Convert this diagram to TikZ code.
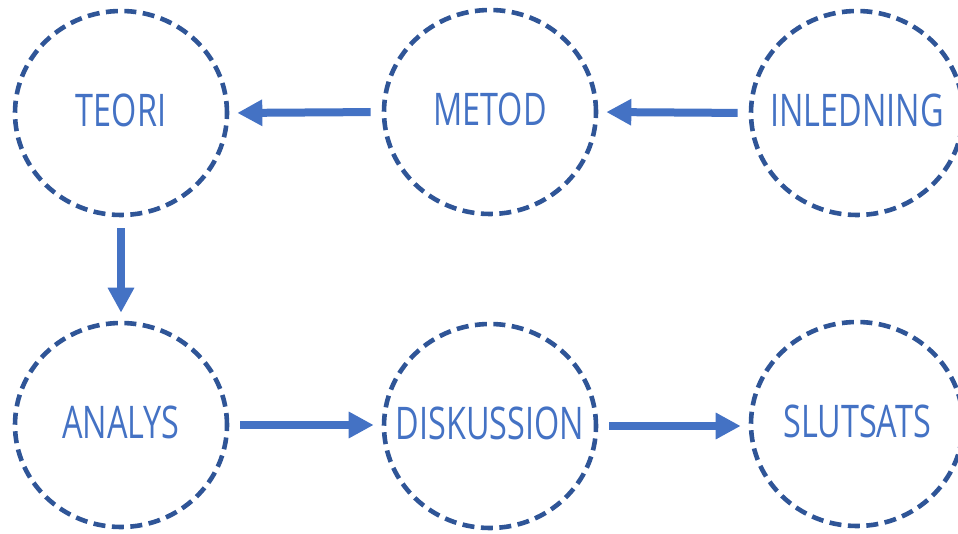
\documentclass[tikz,border=0pt]{standalone}
\usepackage{fontspec}
\setmainfont{Open Sans}[FakeStretch=0.72]
\usetikzlibrary{arrows.meta,shapes.geometric}
\definecolor{ringblue}{HTML}{2F5597}
\definecolor{txtblue}{HTML}{4472C4}
\tikzset{
  ring/.style={draw=ringblue, line width=4.6pt, dash pattern=on 12pt off 6.5pt,
    ellipse, minimum width=212pt, minimum height=204pt, inner sep=0pt},
  lbl/.style={text=txtblue, font=\fontsize{45}{50}\selectfont, inner sep=0pt},
  flow/.style={draw=txtblue, line width=8pt,
    -{Triangle[width=25pt,length=25pt]}, shorten <=11pt, shorten >=8pt}
}
\begin{document}
\begin{tikzpicture}[x=1pt,y=1pt]
\useasboundingbox (0,0) rectangle (958,533);
\node[ring] (teori) at (121,420) {};
\node[ring] (metod) at (490,421) {};
\node[ring] (inled) at (857,420) {};
\node[ring] (analys) at (121,108) {};
\node[ring] (disk) at (490,107) {};
\node[ring] (slut) at (857,109) {};
\node[lbl] (teoriT) at ([yshift=3pt]teori.center) {TEORI};
\node[lbl] (metodT) at ([yshift=3pt]metod.center) {METOD};
\node[lbl] (inledT) at ([yshift=3pt]inled.center) {INLEDNING};
\node[lbl] (analysT) at ([yshift=3pt]analys.center) {ANALYS};
\node[lbl] (diskT) at ([yshift=3pt]disk.center) {DISKUSSION};
\node[lbl] (slutT) at ([yshift=3pt]slut.center) {SLUTSATS};
\draw[flow] (metod.west) -- (teori.east);
\draw[flow] (inled.west) -- (metod.west -| metod.east);
\draw[flow] (teori.south) -- (analys.north);
\draw[flow] (analys.east) -- (analys.east -| disk.west);
\draw[flow] (disk.east) -- (disk.east -| slut.west);
\end{tikzpicture}
\end{document}
